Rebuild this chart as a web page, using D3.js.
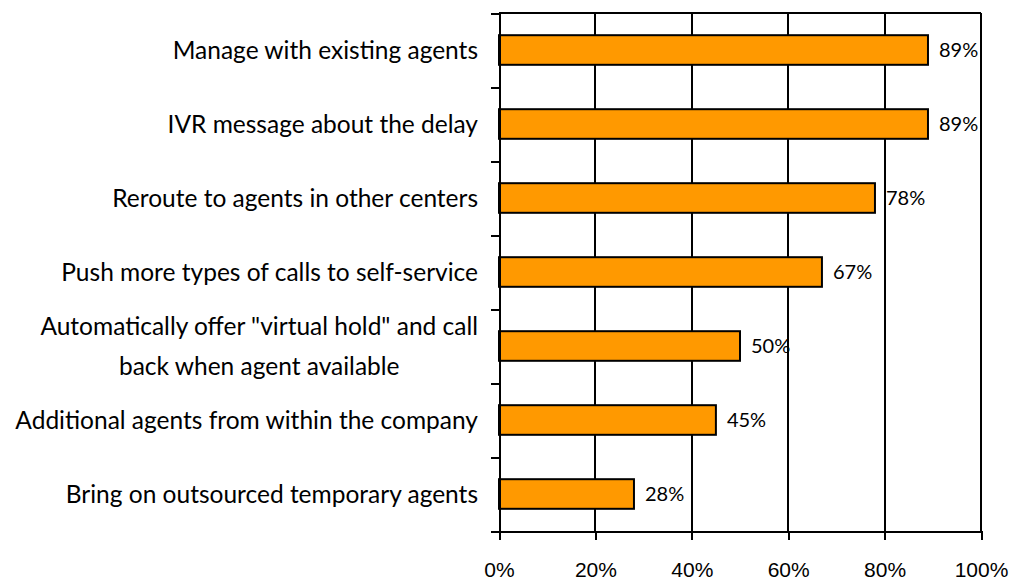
<!DOCTYPE html>
<html>
<head>
<meta charset="utf-8">
<script src="https://cdn.jsdelivr.net/npm/d3@7"></script>
<style>
  body { margin: 0; background: #fff; }
  svg { display: block; font-family: Lato, "Open Sans", sans-serif; }
  .axis path, .axis line, .grid line, .frame { stroke: #000; stroke-width: 2; shape-rendering: crispEdges; }
  .axis text { fill: #000; font-size: 21px; }
  .cat { font-size: 24.5px; fill: #000; }
  .val { font-size: 20px; fill: #000; }
</style>
</head>
<body>
<div id="chart"></div>
<script>
// chart data
var categories = [
  "Manage with existing agents",
  "IVR message about the delay",
  "Reroute to agents in other centers",
  "Push more types of calls to self-service",
  "Automatically offer \"virtual hold\" and call|back when agent available",
  "Additional agents from within the company",
  "Bring on outsourced temporary agents"
];
var values = [0.89, 0.89, 0.78, 0.67, 0.50, 0.45, 0.28];
var xTicks = [0, 0.2, 0.4, 0.6, 0.8, 1];

var width = 1013, height = 585;
var margin = { top: 13, right: 32, bottom: 54, left: 499 };
var plotW = width - margin.left - margin.right,
  plotH = height - margin.top - margin.bottom;

var svg = d3.select("#chart").append("svg")
  .attr("width", width)
  .attr("height", height)
  .append("g")
  .attr("transform", "translate(" + margin.left + "," + margin.top + ")");

var x = d3.scaleLinear().domain([0, 1]).range([0, plotW]);
var y = d3.scaleBand().domain(categories).range([0, plotH])
  .paddingInner(0.6).paddingOuter(0.3);
// boundaries between categories, used for the y ticks
var yEdge = d3.scaleLinear().domain([0, categories.length]).range([0, plotH]);

// vertical gridlines
svg.append("g").attr("class", "grid")
  .selectAll("line")
  .data(xTicks.slice(1, -1))
  .enter().append("line")
  .attr("x1", x).attr("x2", x)
  .attr("y1", 0).attr("y2", plotH);

// frame top and right
svg.append("line").attr("class", "frame")
  .attr("x1", 0).attr("x2", plotW).attr("y1", 0).attr("y2", 0);
svg.append("line").attr("class", "frame")
  .attr("x1", plotW).attr("x2", plotW).attr("y1", 0).attr("y2", plotH);

// bars
svg.append("g").selectAll("rect")
  .data(values)
  .enter().append("rect")
  .attr("x", 0)
  .attr("y", function(d, i) { return y(categories[i]); })
  .attr("width", function(d) { return x(d); })
  .attr("height", y.bandwidth())
  .attr("fill", "#FF9900")
  .attr("stroke", "#000")
  .attr("stroke-width", 2);

// value labels
svg.append("g").selectAll("text")
  .data(values)
  .enter().append("text")
  .attr("class", "val")
  .attr("x", function(d) { return x(d) + 11; })
  .attr("y", function(d, i) { return y(categories[i]) + y.bandwidth() / 2; })
  .attr("dy", "0.35em")
  .text(d3.format(".0%"));

// x axis
svg.append("g").attr("class", "axis")
  .attr("transform", "translate(0," + plotH + ")")
  .call(d3.axisBottom(x).tickValues(xTicks).tickFormat(d3.format(".0%"))
    .tickSize(9).tickSizeOuter(0).tickPadding(22));

// y axis: ticks at category boundaries, no labels
svg.append("g").attr("class", "axis")
  .call(d3.axisLeft(yEdge).tickValues(d3.range(categories.length + 1))
    .tickFormat("").tickSize(8).tickSizeOuter(0));

// category labels, multi-line ones are centred on each other
var catG = svg.append("g");
categories.forEach(function(c, i) {
  var lines = c.split("|"),
    cy = y(c) + y.bandwidth() / 2,
    lineH = 40;
  var t = catG.append("text").attr("class", "cat")
    .attr("text-anchor", "end")
    .attr("x", -21)
    .attr("y", cy - (lines.length - 1) * lineH / 2)
    .attr("dy", "0.35em");
  if (lines.length === 1) {
    t.text(c);
    return;
  }
  t.text(lines[0]);
  var w = t.node().getComputedTextLength();
  t.attr("text-anchor", "middle").attr("x", -21 - w / 2);
  lines.slice(1).forEach(function(l, j) {
    catG.append("text").attr("class", "cat")
      .attr("text-anchor", "middle")
      .attr("x", -21 - w / 2)
      .attr("y", cy - (lines.length - 1) * lineH / 2 + (j + 1) * lineH)
      .attr("dy", "0.35em")
      .text(l);
  });
});
</script>
</body>
</html>
